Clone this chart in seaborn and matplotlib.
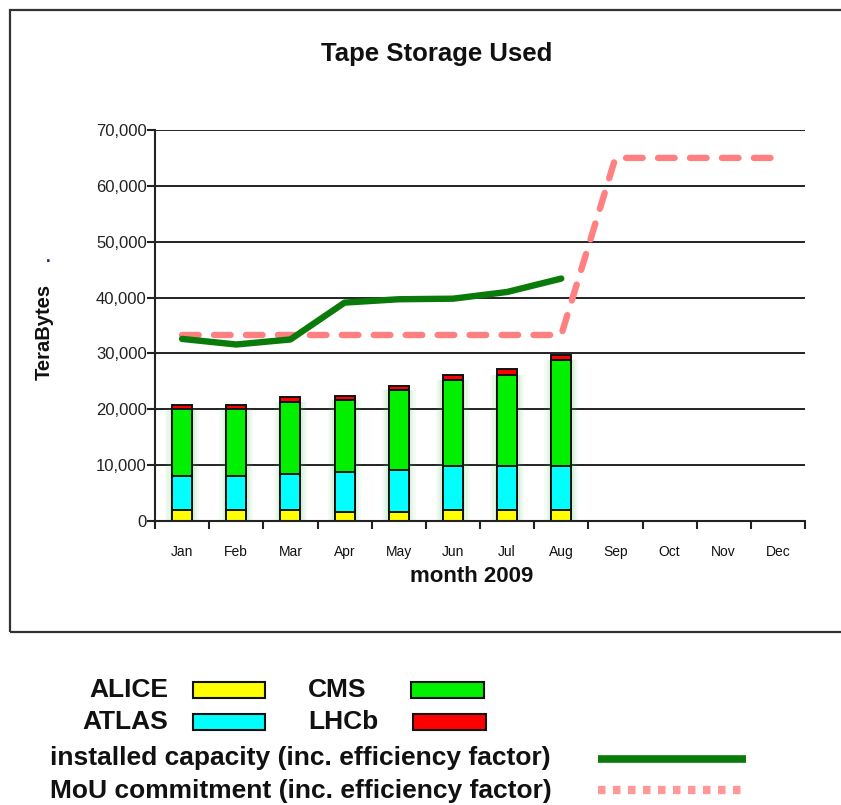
import numpy as np
import pandas as pd
import matplotlib
matplotlib.use("Agg")
import matplotlib.pyplot as plt
import seaborn as sns
from matplotlib.patches import Rectangle
from matplotlib.lines import Line2D

# ---------------- data ----------------
months = ["Jan", "Feb", "Mar", "Apr", "May", "Jun", "Jul", "Aug", "Sep", "Oct", "Nov", "Dec"]
bar_months = ["Jan", "Feb", "Mar", "Apr", "May", "Jun", "Jul", "Aug"]
alice = [2000, 2000, 2000, 1600, 1600, 2000, 2000, 2000]
atlas = [6100, 6100, 6450, 7200, 7550, 7900, 7900, 7900]
cms = [11900, 11900, 12850, 12800, 14350, 15400, 16150, 19000]
lhcb = [700, 700, 850, 850, 750, 750, 1200, 850]
installed = [32600, 31600, 32500, 39100, 39700, 39800, 41000, 43400]
mou = [33300, 33300, 33300, 33300, 33300, 33300, 33300, 33300, 65000, 65000, 65000, 65000]
yticks = [0, 10000, 20000, 30000, 40000, 50000, 60000, 70000]

series_names = ["ALICE", "ATLAS", "CMS", "LHCb"]
series_colors = ["#FFFF00", "#00FFFF", "#00F000", "#FF0000"]
installed_label = "installed capacity (inc. efficiency factor)"
mou_label = "MoU commitment (inc. efficiency factor)"

# ---------------- style ----------------
sns.set_theme(style="white")
plt.rcParams["font.family"] = ["Liberation Sans", "DejaVu Sans"]

W, H = 841, 805
fig = plt.figure(figsize=(W / 100, H / 100), dpi=100)
fig.patch.set_facecolor("white")

# outer chart frame
fig.add_artist(Rectangle((10 / W, 1 - 632 / H), 1.2, (632 - 10) / H,
                         transform=fig.transFigure, fill=False,
                         edgecolor="#333333", lw=1.6, zorder=0))

ax = fig.add_axes([155 / W, 1 - 521 / H, 650 / W, 391 / H])
ax.set_facecolor("white")

df = pd.DataFrame({"month": bar_months, "ALICE": alice, "ATLAS": atlas,
                   "CMS": cms, "LHCb": lhcb})
cum = df[series_names].cumsum(axis=1)
cum["month"] = df["month"]

# soft green glow behind the bars
for w, a in [(0.62, 0.06), (0.54, 0.08), (0.46, 0.10)]:
    sns.barplot(data=cum, x="month", y="CMS", order=months, color="#4fc060",
                width=w, alpha=a, linewidth=0, saturation=1, errorbar=None,
                ax=ax, zorder=1)

# stacked bars: draw cumulative totals from top to bottom
for name, color in zip(reversed(series_names), reversed(series_colors)):
    sns.barplot(data=cum, x="month", y=name, order=months, color=color,
                width=0.37, edgecolor="#111111", linewidth=1.4, saturation=1,
                errorbar=None, ax=ax, zorder=2)

# lines
sns.lineplot(x=np.arange(len(installed)), y=installed, color="#0A7A0A",
             lw=4.6, ax=ax, zorder=4, solid_capstyle="round")
sns.lineplot(x=np.arange(len(mou)), y=mou, color="#FF8080", lw=4.6, ax=ax,
             zorder=3, linestyle=(0, (2.6, 2.4)), dash_capstyle="round")

# axes formatting
ax.set_xlim(-0.5, 11.5)
ax.set_ylim(0, 70000)
ax.set_yticks(yticks)
ax.set_yticklabels([f"{v:,}" for v in yticks], fontsize=12, color="#222222")
ax.set_xticks(range(len(months)))
ax.set_xticklabels(months, fontsize=10, color="#111111")
ax.set_xticks(np.arange(-0.5, 12, 1), minor=True)
ax.tick_params(axis="x", which="major", length=0, pad=17)
ax.tick_params(axis="x", which="minor", length=6, width=1.5, color="#222222",
               direction="out", bottom=True)
ax.tick_params(axis="y", length=6, width=1.5, color="#222222", direction="out",
               left=True, pad=0)
ax.yaxis.grid(True, color="#111111", lw=1.3)
ax.xaxis.grid(False)
ax.set_axisbelow(True)
for s in ["top", "right"]:
    ax.spines[s].set_visible(False)
for s in ["left", "bottom"]:
    ax.spines[s].set_color("#222222")
    ax.spines[s].set_linewidth(1.5)
ax.set_xlabel("")
ax.set_ylabel("")
if ax.get_legend():
    ax.get_legend().remove()

# titles
fig.text(437 / W, 1 - 54 / H, "Tape Storage Used", ha="center", va="center",
         fontsize=18.5, fontweight="bold", color="#111111")
fig.text(44 / W, 1 - 332 / H, "TeraBytes", ha="center", va="center",
         rotation=90, fontsize=14.5, fontweight="bold", color="#111111")
fig.text(48 / W, 1 - 258 / H, ".", ha="center", va="center", fontsize=12,
         fontweight="bold", color="#222266")
fig.text(472 / W, 1 - 576 / H, "month 2009", ha="center", va="center",
         fontsize=16, fontweight="bold", color="#111111")

# legend (below the chart frame)
LFS = 19
rows = [690, 722]
layout = [(0, 0, 168, 193, 265), (1, 1, 168, 193, 265),
          (2, 0, 308, 411, 484), (3, 1, 308, 413, 486)]
for idx, r, tx, bx0, bx1 in layout:
    ha = "right" if tx == 168 else "left"
    fig.text(tx / W, 1 - rows[r] / H, series_names[idx], ha=ha, va="center",
             fontsize=LFS, fontweight="bold", color="#111111")
    fig.add_artist(Rectangle((bx0 / W, 1 - (rows[r] + 8) / H), (bx1 - bx0) / W,
                             16 / H, transform=fig.transFigure,
                             facecolor=series_colors[idx], edgecolor="#111111",
                             lw=1.5))
fig.text(50 / W, 1 - 758 / H, installed_label, ha="left", va="center",
         fontsize=LFS, fontweight="bold", color="#111111")
fig.text(50 / W, 1 - 791 / H, mou_label, ha="left", va="center",
         fontsize=LFS, fontweight="bold", color="#111111")
fig.add_artist(Line2D([598 / W, 746 / W], [1 - 759 / H, 1 - 759 / H],
                      transform=fig.transFigure, color="#0A7A0A", lw=5.5,
                      solid_capstyle="butt"))
fig.add_artist(Line2D([598 / W, 746 / W], [1 - 790 / H, 1 - 790 / H],
                      transform=fig.transFigure, color="#FF9999", lw=6,
                      linestyle=(0, (0.9, 0.9)), dash_capstyle="butt"))

fig.savefig("out.png", dpi=100, facecolor="white")
